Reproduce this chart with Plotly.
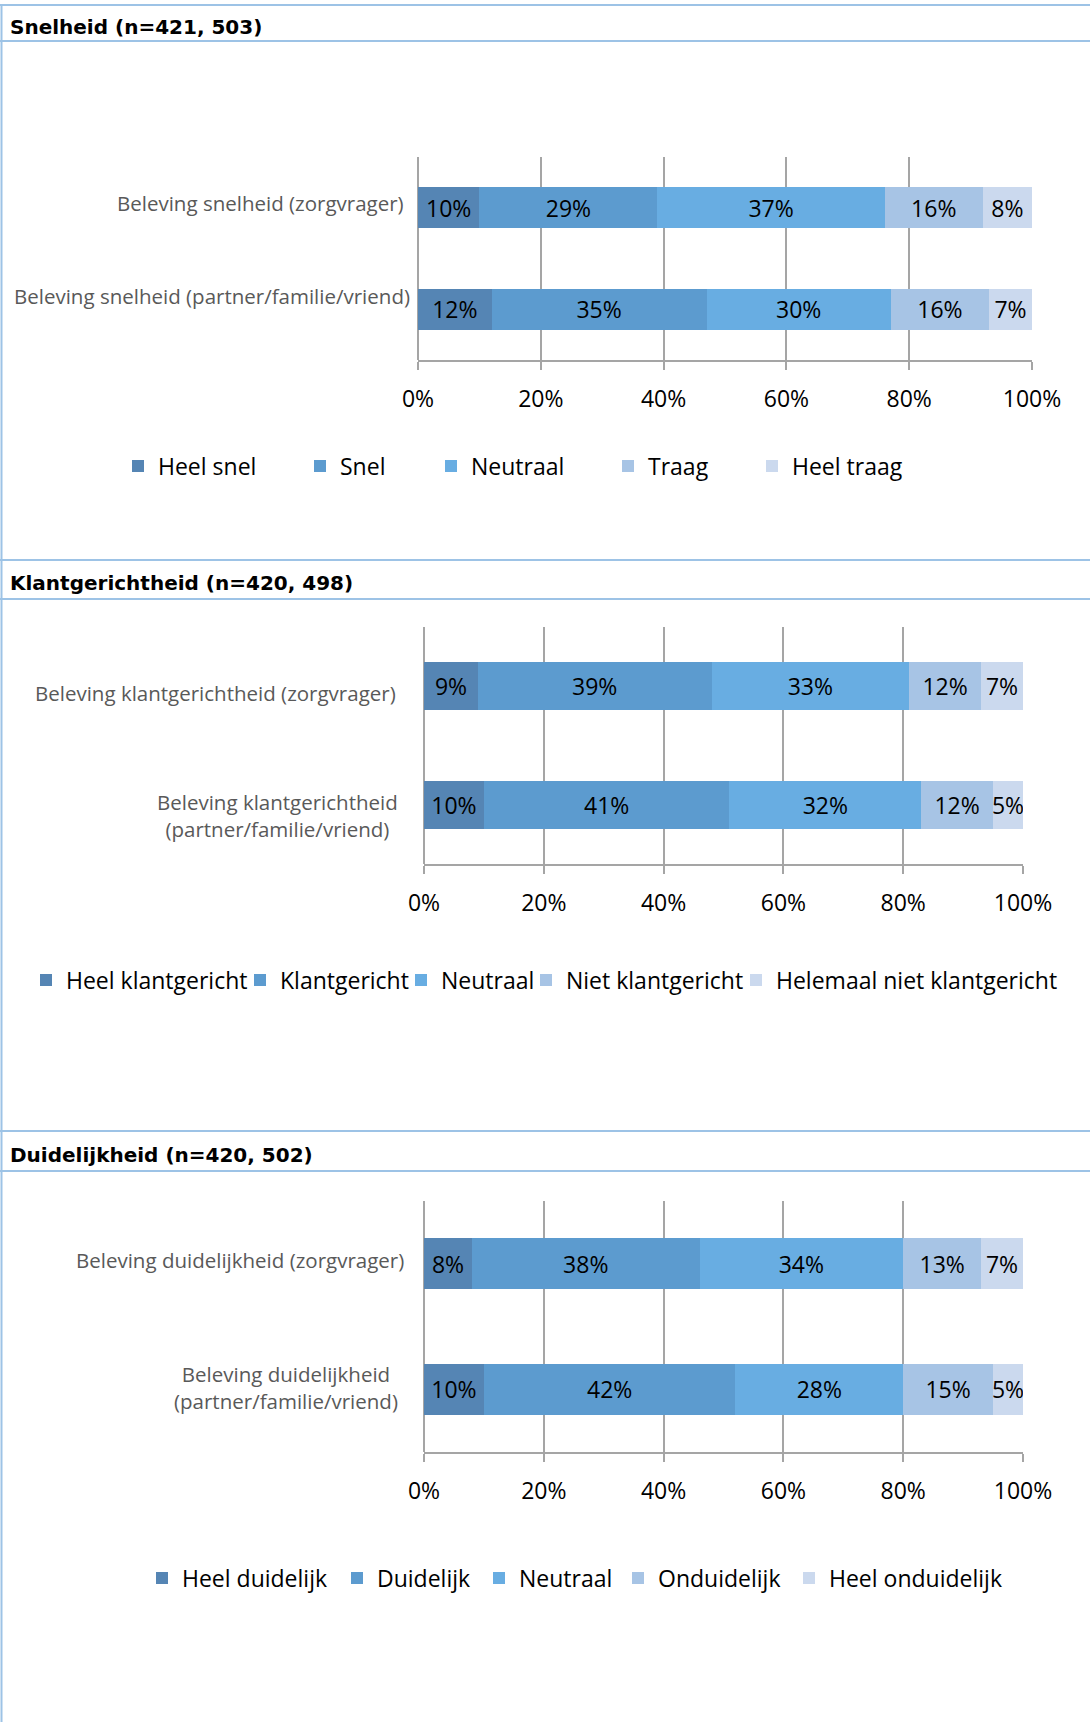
import plotly.graph_objects as go

W, H = 1090, 1722

# ---- data ----
tick_values = [0, 20, 40, 60, 80, 100]
tick_labels = ['0%', '20%', '40%', '60%', '80%', '100%']

snel_title = 'Snelheid (n=421, 503)'
snel_categories = ['Beleving snelheid (zorgvrager)',
                   'Beleving snelheid (partner/familie/vriend)']
snel_series = ['Heel snel', 'Snel', 'Neutraal', 'Traag', 'Heel traag']
snel_values = [[10, 12], [29, 35], [37, 30], [16, 16], [8, 7]]

klant_title = 'Klantgerichtheid (n=420, 498)'
klant_categories = ['Beleving klantgerichtheid (zorgvrager)',
                    'Beleving klantgerichtheid<br>(partner/familie/vriend)']
klant_series = ['Heel klantgericht', 'Klantgericht', 'Neutraal',
                'Niet klantgericht', 'Helemaal niet klantgericht']
klant_values = [[9, 10], [39, 41], [33, 32], [12, 12], [7, 5]]

duid_title = 'Duidelijkheid (n=420, 502)'
duid_categories = ['Beleving duidelijkheid (zorgvrager)',
                   'Beleving duidelijkheid<br>(partner/familie/vriend)']
duid_series = ['Heel duidelijk', 'Duidelijk', 'Neutraal', 'Onduidelijk', 'Heel onduidelijk']
duid_values = [[8, 10], [38, 42], [34, 28], [13, 15], [7, 5]]

colors = ['#5585B4', '#5C9BCF', '#68ADE2', '#A7C4E5', '#CBD9EE']
band_color = '#9DC3E6'
grid_color = '#A5A5A5'


def px_x(x):
    return x / W


def px_y(y):
    return 1 - y / H


# layout of each panel in pixels (plot box, title band, legend row, label nudges)
panels = [
    dict(title=snel_title, cats=snel_categories, series=snel_series, values=snel_values,
         xs=(418, 1032), ys=(157, 360), title_y=27, bands=(5, 41),
         legend_y=466, legend_x=158, legend_font=23,
         label_right=[406, 412], label_shift=[5, 13],
         widths=[137, 86, 132, 99, 112]),
    dict(title=klant_title, cats=klant_categories, series=klant_series, values=klant_values,
         xs=(424, 1023), ys=(627, 864), title_y=583, bands=(560, 599),
         legend_y=980, legend_x=66, legend_font=23,
         label_right=[398, 400], label_shift=[-7, -11],
         widths=[169, 116, 80, 165, 300]),
    dict(title=duid_title, cats=duid_categories, series=duid_series, values=duid_values,
         xs=(424, 1023), ys=(1201, 1452), title_y=1155, bands=(1131, 1171),
         legend_y=1578, legend_x=182, legend_font=23,
         label_right=[406, 400], label_shift=[4, 2],
         widths=[150, 97, 94, 126, 176]),
]

fig = go.Figure()
layout = dict(
    width=W, height=H,
    margin=dict(l=0, r=0, t=0, b=0, autoexpand=False),
    paper_bgcolor='white', plot_bgcolor='white',
    barmode='stack', bargap=0.595,
    showlegend=True,
    annotations=[], shapes=[],
)

for i, p in enumerate(panels):
    n = '' if i == 0 else str(i + 1)
    xname, yname, lname = 'x' + n, 'y' + n, 'legend' + n

    for s, (name, vals) in enumerate(zip(p['series'], p['values'])):
        fig.add_trace(go.Bar(
            y=p['cats'], x=vals, orientation='h', name=name,
            marker=dict(color=colors[s], line=dict(width=0)),
            text=[f'{v}%' for v in vals], textposition='inside', insidetextanchor='middle',
            textangle=0, constraintext='none',
            textfont=dict(family='Open Sans', size=23, color='black'),
            xaxis=xname, yaxis=yname, legend=lname, legendwidth=p['widths'][s],
            hoverinfo='name+text',
        ))

    layout['xaxis' + n] = dict(
        domain=[px_x(p['xs'][0]), px_x(p['xs'][1])], anchor=yname,
        range=[0, 100], tickvals=tick_values, ticktext=tick_labels,
        showgrid=True, gridcolor=grid_color, gridwidth=1.6,
        zeroline=True, zerolinecolor=grid_color, zerolinewidth=1.6,
        showline=True, linecolor=grid_color, linewidth=2,
        ticks='outside', ticklen=8, tickcolor=grid_color, tickwidth=1.6,
        tickfont=dict(family='Open Sans', size=23, color='black'),
        ticklabelstandoff=9, fixedrange=True, automargin=False,
    )
    layout['yaxis' + n] = dict(
        domain=[px_y(p['ys'][1]), px_y(p['ys'][0])], anchor=xname,
        autorange='reversed', showgrid=False, zeroline=False, showline=False,
        ticks='', showticklabels=False, fixedrange=True, automargin=False,
    )
    layout[lname] = dict(
        orientation='h', traceorder='normal',
        x=px_x(p['legend_x'] - 40), xanchor='left',
        y=px_y(p['legend_y']), yanchor='middle',
        font=dict(family='Open Sans', size=p['legend_font'], color='black'),
        bgcolor='rgba(0,0,0,0)', borderwidth=0,
    )

    # category labels, placed on the category axis and nudged like the original
    for c, cat in enumerate(p['cats']):
        layout['annotations'].append(dict(
            text=cat, xref='paper', yref=yname, x=px_x(p['label_right'][c]), y=cat,
            xanchor='right', yanchor='middle', align='center', yshift=p['label_shift'][c],
            showarrow=False, font=dict(family='Open Sans', size=20.5, color='#595959'),
        ))

    # panel title and its band lines
    layout['annotations'].append(dict(
        text='<b>' + p['title'] + '</b>', xref='paper', yref='paper',
        x=px_x(8), y=px_y(p['title_y']), xanchor='left', yanchor='middle',
        showarrow=False, font=dict(family='DejaVu Sans', size=20, color='black'),
    ))
    for by in p['bands']:
        layout['shapes'].append(dict(
            type='line', xref='paper', yref='paper',
            x0=0, x1=1, y0=px_y(by), y1=px_y(by),
            line=dict(color=band_color, width=2),
        ))

# left border of the page frame
layout['shapes'].append(dict(
    type='line', xref='paper', yref='paper',
    x0=px_x(1.5), x1=px_x(1.5), y0=0, y1=px_y(5),
    line=dict(color=band_color, width=2),
))

fig.update_layout(**layout)
fig.write_html('out.html', config={'displayModeBar': False},
               post_script="document.body.style.margin='0';document.body.style.overflow='hidden';")
